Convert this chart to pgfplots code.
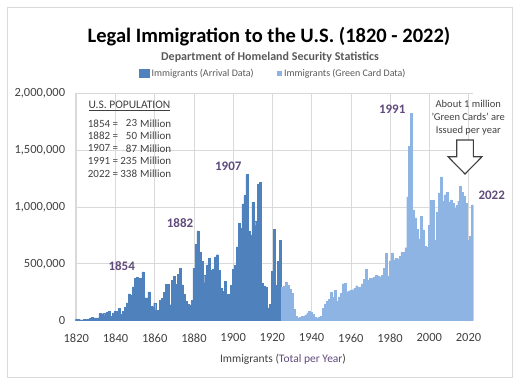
\documentclass[border=0pt]{standalone}
\usepackage{fontspec}
\setmainfont{Carlito}
\usepackage{pgfplots}
\pgfplotsset{compat=1.18}
\usepackage{pgfplotstable}
\definecolor{darkbar}{HTML}{4F81BD}
\definecolor{lightbar}{HTML}{8DB4E2}
\definecolor{annot}{HTML}{604A7B}
\definecolor{gridgrey}{HTML}{D9D9D9}
\definecolor{txtgrey}{HTML}{595959}
\definecolor{ticktext}{HTML}{404040}

\pgfplotstableread{
year n
1820 8385
1821 9127
1822 6911
1823 6354
1824 7912
1825 10199
1826 10837
1827 18875
1828 27382
1829 22520
1830 23322
1831 22633
1832 60482
1833 58640
1834 65365
1835 45374
1836 76242
1837 79340
1838 38914
1839 68069
1840 84066
1841 80289
1842 104565
1843 52496
1844 78615
1845 114371
1846 154416
1847 234968
1848 226527
1849 297024
1850 369980
1851 379466
1852 371603
1853 368645
1854 427833
1855 200877
1856 200436
1857 251306
1858 123126
1859 121282
1860 153640
1861 91918
1862 91985
1863 176282
1864 193418
1865 248120
1866 318568
1867 315722
1868 138840
1869 352768
1870 387203
1871 321350
1872 404806
1873 459803
1874 313339
1875 227498
1876 169986
1877 141857
1878 138469
1879 177826
1880 457257
1881 669431
1882 788992
1883 603322
1884 518592
1885 395346
1886 334203
1887 490109
1888 546889
1889 444427
1890 455302
1891 560319
1892 579663
1893 439730
1894 285631
1895 258536
1896 343267
1897 230832
1898 229299
1899 311715
1900 448572
1901 487918
1902 648743
1903 857046
1904 812870
1905 1026499
1906 1100735
1907 1285349
1908 782870
1909 751786
1910 1041570
1911 878587
1912 838172
1913 1197892
1914 1218480
1915 326700
1916 298826
1917 295403
1918 110618
1919 141132
1920 430001
1921 805228
1922 309556
1923 522919
1924 706896
}\arrival

\pgfplotstableread{
year n
1925 294314
1926 304488
1927 335175
1928 307255
1929 279678
1930 241700
1931 97139
1932 35576
1933 23068
1934 29470
1935 34956
1936 36329
1937 50244
1938 67895
1939 82998
1940 70756
1941 51776
1942 28781
1943 23725
1944 28551
1945 38119
1946 108721
1947 147292
1948 170570
1949 188317
1950 249187
1951 205717
1952 265520
1953 170434
1954 208177
1955 237790
1956 321625
1957 326867
1958 253265
1959 260686
1960 265398
1961 271344
1962 283763
1963 306260
1964 292248
1965 296697
1966 323040
1967 361972
1968 454448
1969 358579
1970 373326
1971 370478
1972 384685
1973 398515
1974 393919
1975 385378
1976 398613
1977 458755
1978 589810
1979 394244
1980 524295
1981 595014
1982 533624
1983 550052
1984 541811
1985 568149
1986 600027
1987 599889
1988 641346
1989 1090172
1990 1535872
1991 1826595
1992 973445
1993 903916
1994 803993
1995 720177
1996 915560
1997 797847
1998 653206
1999 644787
2000 841002
2001 1058902
2002 1059356
2003 703542
2004 957883
2005 1122257
2006 1266129
2007 1052415
2008 1107126
2009 1130818
2010 1042625
2011 1062040
2012 1031631
2013 990553
2014 1016518
2015 1051031
2016 1183505
2017 1127167
2018 1096611
2019 1031765
2020 707362
2021 740002
2022 1018349
}\greencard

\begin{document}
\begin{tikzpicture}[x=1pt,y=1pt]
\useasboundingbox (0,0) rectangle (514,381);
\draw[gridgrey, line width=0.8pt] (7,4) rectangle (512.5,374);

% titles
\node[font=\fontsize{20.5}{24}\selectfont\bfseries, text=black] at (269,344) {Legal Immigration to the U.S. (1820 - 2022)};
\node[font=\fontsize{12}{14}\selectfont\bfseries, text=txtgrey] at (270,324) {Department of Homeland Security Statistics};

% legend
\fill[darkbar] (139,302.5) rectangle (149.5,311.5);
\node[anchor=west, inner sep=0pt, font=\fontsize{10}{12}\selectfont, text=txtgrey] at (151.5,307) {Immigrants (Arrival Data)};
\fill[lightbar] (276.5,304.5) rectangle (281.5,309.5);
\node[anchor=west, inner sep=0pt, font=\fontsize{10}{12}\selectfont, text=txtgrey] at (284,307) {Immigrants (Green Card Data)};

\begin{axis}[
  at={(75.3pt,60.5pt)}, anchor=south west,
  scale only axis, width=398.1pt, height=227pt,
  xmin=1819.5, xmax=2022.5, ymin=0, ymax=2000000,
  xtick={1820,1840,...,2020},
  ytick={0,500000,1000000,1500000,2000000},
  grid=major, major grid style={gridgrey, line width=0.6pt},
  axis x line=bottom, axis y line=left,
  axis line style={gridgrey, line width=0.6pt, -},
  major tick length=0pt,
  scaled y ticks=false,
  /pgf/number format/assume math mode=true,
  tick label style={font=\fontsize{12.5}{14}\selectfont, text=ticktext},
  yticklabel style={/pgf/number format/fixed, /pgf/number format/precision=0, /pgf/number format/1000 sep={,}, anchor=east, inner sep=0pt, xshift=-10pt},
  xticklabel style={/pgf/number format/1000 sep={}, anchor=north, inner sep=0pt, yshift=-13pt},
]
\addplot[ybar, bar width=1.961pt, bar shift=0pt, fill=darkbar, draw=darkbar, line width=0.4pt, line join=miter] table[x=year, y=n] {\arrival};
\addplot[ybar, bar width=1.961pt, bar shift=0pt, fill=lightbar, draw=lightbar, line width=0.4pt, line join=miter] table[x=year, y=n] {\greencard};
\end{axis}

% x axis label
\node[font=\fontsize{11.5}{14}\selectfont, text=ticktext] at (283,22) {Immigrants (\textcolor{annot}{Total per Year})};

% annotations
\node[font=\fontsize{13}{15}\selectfont\bfseries, text=annot] at (121.7,115) {1854};
\node[font=\fontsize{13}{15}\selectfont\bfseries, text=annot] at (180,157.7) {1882};
\node[font=\fontsize{13}{15}\selectfont\bfseries, text=annot] at (228.3,214.3) {1907};
\node[font=\fontsize{13}{15}\selectfont\bfseries, text=annot] at (392.2,271.7) {1991};
\node[font=\fontsize{13}{15}\selectfont\bfseries, text=annot] at (491.7,186) {2022};

% population box
\node[anchor=west, inner sep=0pt, font=\fontsize{11.5}{13}\selectfont, text=ticktext] at (88.3,275.3) {\underline{U.S. POPULATION}};
\foreach \yr/\num/\yy in {1854/23/257.7, 1882/50/245.3, 1907/87/232.7, 1991/235/220, 2022/338/207}{
  \node[anchor=west, inner sep=0pt, font=\fontsize{11}{13}\selectfont, text=ticktext] at (87.7,\yy) {\yr\ =};
  \node[anchor=east, inner sep=0pt, font=\fontsize{11}{13}\selectfont, text=ticktext] at (137.3,\yy) {\num};
  \node[anchor=west, inner sep=0pt, font=\fontsize{11}{13}\selectfont, text=ticktext] at (140,\yy) {Million};
}

% green card note
\node[align=center, font=\fontsize{10.5}{12.7}\selectfont, text=ticktext] at (468.3,263.3) {About 1 million\\'Green Cards' are\\Issued per year};
\draw[ticktext, line width=1.1pt, fill=white, line join=miter]
  (456.7,241) -- (473.3,241) -- (473.3,224.3) -- (482,224.3) -- (465,207) -- (448,224.3) -- (456.7,224.3) -- cycle;
\end{tikzpicture}
\end{document}
